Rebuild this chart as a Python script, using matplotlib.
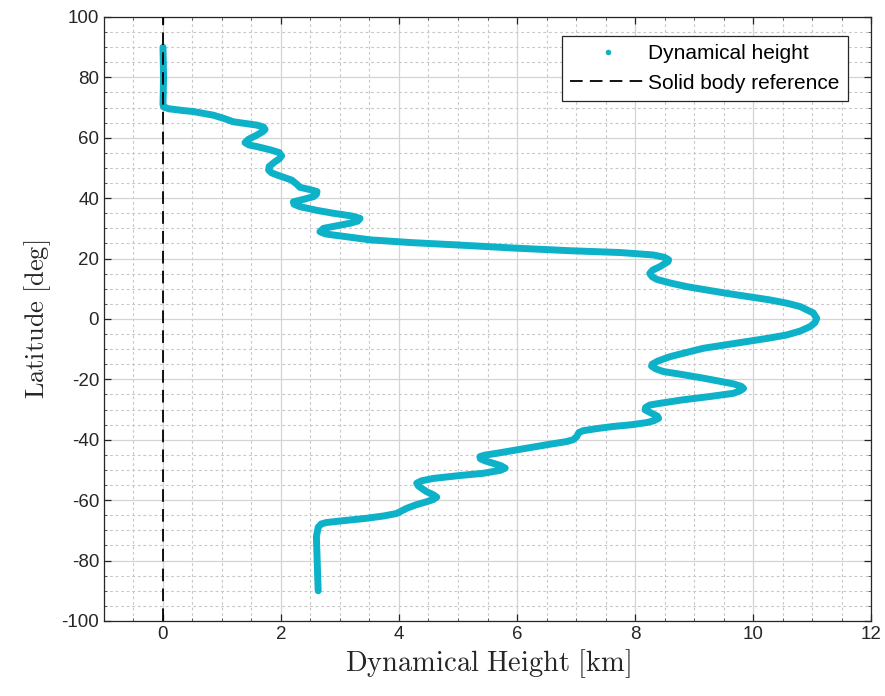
import matplotlib
matplotlib.use("Agg")
import matplotlib.pyplot as plt
from matplotlib.lines import Line2D
from matplotlib.ticker import MultipleLocator

# dynamical height profile, north to south
latitude = [90, 80, 71, 70.2, 69.6, 69.0, 68.7, 67.5, 66.3, 65.3, 64.6, 64.2,
            63.6, 62.8, 62.0, 60.9, 59.5, 58.4, 57.6, 57.1, 56.0, 55.1, 54.0,
            53.0, 52.1, 50.5, 49.3, 48.4, 47.7, 46.0, 44.6, 43.6, 42.8, 42.2,
            41.3, 40.5, 39.6, 38.8, 38.0, 37.2, 36.0, 35.0, 34.1, 33.3, 32.4,
            31.7, 30.0, 28.9, 28.2, 27.8, 27.0, 26.2, 25.3, 24.5, 23.5, 22.6,
            22.0, 21.2, 20.4, 19.6, 19.0, 17.3, 16.2, 15.1, 14.0, 13.1, 11.9,
            10.7, 8.5, 6.3, 5.2, 4.1, 2.0, 0.2, -1.2, -2.5, -4.0, -5.3, -6.4,
            -7.5, -9.7, -11.2, -12.5, -14.0, -15.0, -15.6, -16.5, -17.4, -18.4,
            -19.6, -21.5, -22.3, -23.0, -23.8, -24.6, -25.6, -26.8, -28.0,
            -28.5, -29.3, -30.1, -31.2, -32.2, -32.9, -33.7, -34.3, -35.0,
            -35.6, -36.3, -37.0, -37.6, -39.0, -40.0, -40.6, -41.5, -42.8,
            -44.5, -45.1, -45.6, -46.3, -47.0, -47.8, -48.6, -49.4, -50.1,
            -50.6, -51.1, -51.8, -52.8, -53.6, -54.4, -55.3, -56.3, -57.2,
            -58.2, -59.0, -59.8, -60.5, -61.6, -62.7, -64.4, -65.2, -66.0,
            -66.8, -67.4, -67.9, -69.0, -72.1, -90]
height_km = [0.00, 0.01, 0.00, 0.01, 0.10, 0.35, 0.51, 0.85, 1.05, 1.19, 1.45,
             1.59, 1.70, 1.73, 1.69, 1.59, 1.45, 1.39, 1.46, 1.59, 1.82, 1.97,
             2.01, 1.97, 1.90, 1.80, 1.79, 1.84, 1.93, 2.18, 2.27, 2.32, 2.50,
             2.61, 2.60, 2.55, 2.38, 2.21, 2.22, 2.32, 2.60, 2.89, 3.20, 3.34,
             3.30, 3.17, 2.72, 2.66, 2.75, 2.89, 3.20, 3.51, 4.20, 5.00, 5.93,
             6.90, 7.75, 8.31, 8.50, 8.57, 8.56, 8.42, 8.30, 8.25, 8.29, 8.37,
             8.60, 8.88, 9.55, 10.29, 10.58, 10.80, 11.02, 11.08, 11.05, 10.97,
             10.80, 10.57, 10.25, 9.89, 9.16, 8.85, 8.59, 8.38, 8.29, 8.28,
             8.35, 8.48, 8.80, 9.16, 9.67, 9.80, 9.84, 9.78, 9.67, 9.30, 8.80,
             8.40, 8.25, 8.18, 8.17, 8.28, 8.38, 8.40, 8.32, 8.20, 7.95, 7.63,
             7.35, 7.12, 7.05, 7.01, 6.95, 6.84, 6.55, 6.16, 5.65, 5.45, 5.37,
             5.38, 5.46, 5.60, 5.73, 5.80, 5.72, 5.58, 5.43, 5.05, 4.58, 4.38,
             4.30, 4.33, 4.40, 4.47, 4.58, 4.64, 4.58, 4.47, 4.28, 4.13, 3.96,
             3.75, 3.45, 3.05, 2.77, 2.68, 2.63, 2.60, 2.63]

# solid body rotation reference
ref_lat = [-100, 100]
ref_height = [0, 0]

line_color = "#0db1c8"
axis_gray = "#262626"

plt.rcParams["font.family"] = ["Liberation Sans", "DejaVu Sans"]
plt.rcParams["mathtext.fontset"] = "cm"
plt.rcParams["axes.unicode_minus"] = False

fig = plt.figure(figsize=(8.85, 6.96), dpi=100)
ax = fig.add_axes([0.1175, 0.1078, 0.8667, 0.8678])

ax.plot(height_km, latitude, color=line_color, lw=5,
        solid_capstyle="round", solid_joinstyle="round", zorder=3)
ax.plot(ref_height, ref_lat, color="black", lw=1.3,
        linestyle=(0, (7, 4)), zorder=4)

ax.set_xlim(-1, 12)
ax.set_ylim(-100, 100)
ax.xaxis.set_major_locator(MultipleLocator(2))
ax.xaxis.set_minor_locator(MultipleLocator(0.5))
ax.yaxis.set_major_locator(MultipleLocator(20))
ax.yaxis.set_minor_locator(MultipleLocator(5))

ax.grid(which="major", color="#d4d4d4", lw=0.9, zorder=0)
ax.grid(which="minor", color="#c8c8c8", lw=0.8, linestyle=(0, (2.5, 2.5)), zorder=0)
ax.set_axisbelow(True)

ax.tick_params(which="both", direction="in", top=True, right=True,
               colors=axis_gray, labelsize=13.5)
ax.tick_params(which="major", length=5, width=0.9)
ax.tick_params(which="minor", length=2, width=0.5)
for spine in ax.spines.values():
    spine.set_color(axis_gray)
    spine.set_linewidth(0.9)

ax.set_xlabel(r"$\mathrm{Dynamical\ Height\ [km]}$", fontsize=20.5, color=axis_gray, labelpad=3)
ax.set_ylabel(r"$\mathrm{Latitude\ [deg]}$", fontsize=19, color=axis_gray, labelpad=6)

handles = [
    Line2D([], [], color=line_color, marker=".", linestyle="none", markersize=6),
    Line2D([], [], color="black", lw=1.3, linestyle=(0, (7, 4))),
]
leg = ax.legend(handles, ["Dynamical height", "Solid body reference"],
                loc="upper right", bbox_to_anchor=(0.970, 0.9685),
                borderaxespad=0, fontsize=15, fancybox=False, framealpha=1,
                edgecolor=axis_gray, handlelength=3.6, handletextpad=0.15,
                borderpad=0.4, labelspacing=0.5)
leg.get_frame().set_linewidth(0.9)

fig.savefig("out.png", dpi=100)
